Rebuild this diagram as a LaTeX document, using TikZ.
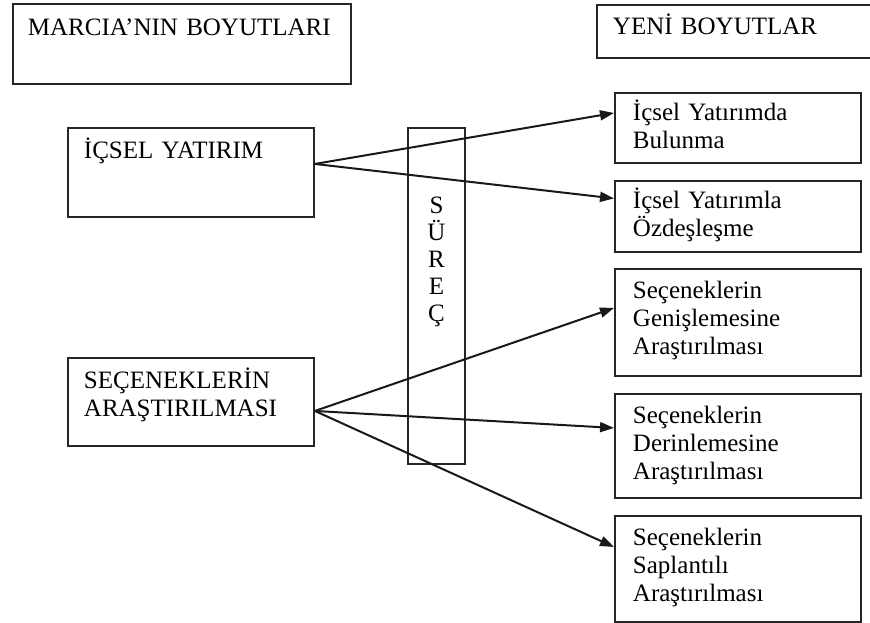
\documentclass[tikz,border=0pt]{standalone}
\usepackage{fontspec}
\setmainfont{Liberation Serif}
\usetikzlibrary{arrows.meta}
\begin{document}
\begin{tikzpicture}[x=1pt, y=-1pt,
		every node/.style={rectangle, draw=black!85, line width=1.9pt, anchor=north west, align=left, inner ysep=0pt, font=\fontsize{25}{28}\selectfont},
		leftbox/.style={text width=214pt, inner xsep=16pt, text height=31pt},
		rightbox/.style={text width=210pt, inner xsep=18pt},
		link/.style={line width=2pt, draw=black!90, -{Triangle[length=14pt, width=10pt]}}]
	\useasboundingbox (0,0) rectangle (870,623);

	\node[text width=308pt, inner xsep=15pt, text height=32pt, text depth=48pt] (marcia) at (12,3) {MARCIA’NIN BOYUTLARI};
	\node[text width=258pt, inner xsep=16pt, text height=30pt, text depth=23pt] (yeni) at (596,4) {YENİ BOYUTLAR};

	\node[leftbox, text depth=58pt] (icsel) at (67,127) {İÇSEL YATIRIM};
	\node[leftbox, text depth=57pt] (secenek) at (67,357) {SEÇENEKLERİN\\ARAŞTIRILMASI};

	\node[text width=57pt, inner xsep=0pt, align=center, text height=86pt, text depth=250pt, font=\fontsize{25}{27}\selectfont] (surec) at (407,127) {S\\Ü\\R\\E\\Ç};

	\node[rightbox, text height=28pt, text depth=42pt] (bulunma) at (614,92) {İçsel Yatırımda\\Bulunma};
	\node[rightbox, text height=28pt, text depth=43pt] (ozdeslesme) at (614,180) {İçsel Yatırımla\\Özdeşleşme};
	\node[rightbox, text height=30pt, text depth=77pt] (genislemesine) at (614,268) {Seçeneklerin\\Genişlemesine\\Araştırılması};
	\node[rightbox, text height=30pt, text depth=74pt] (derinlemesine) at (614,393) {Seçeneklerin\\Derinlemesine\\Araştırılması};
	\node[rightbox, text height=30pt, text depth=76pt] (saplantili) at (614,515) {Seçeneklerin\\Saplantılı\\Araştırılması};

	\draw[link] ([yshift=8.5pt]icsel.east) -- ([yshift=15pt]bulunma.west);
	\draw[link] ([yshift=8.5pt]icsel.east) -- ([yshift=18pt]ozdeslesme.west);

	\draw[link] ([yshift=-9pt]secenek.east) -- ([yshift=14.5pt]genislemesine.west);
	\draw[link] ([yshift=-9pt]secenek.east) -- ([yshift=18pt]derinlemesine.west);
	\draw[link] ([yshift=-9pt]secenek.east) -- ([yshift=22pt]saplantili.west);
\end{tikzpicture}
\end{document}
